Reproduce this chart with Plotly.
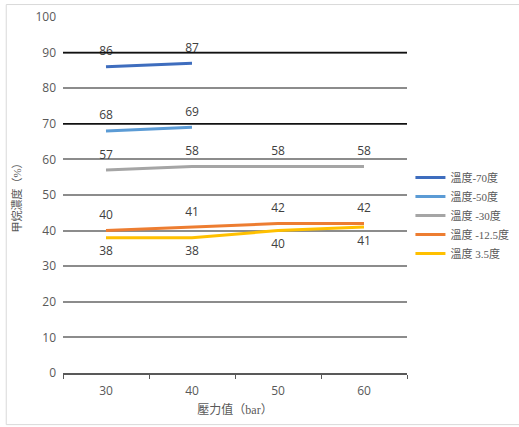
import plotly.graph_objects as go

categories = ["30", "40", "50", "60"]
series_names = ["溫度-70度", "溫度-50度", "溫度 -30度", "溫度 -12.5度", "溫度 3.5度"]
s_m70 = [86, 87, None, None]
s_m50 = [68, 69, None, None]
s_m30 = [57, 58, 58, 58]
s_m125 = [40, 41, 42, 42]
s_p35 = [38, 38, 40, 41]
series_values = [s_m70, s_m50, s_m30, s_m125, s_p35]
colors = ["#3E6DBE", "#5B9BD5", "#A5A5A5", "#ED7D31", "#FFC000"]
label_pos = ["top center", "top center", "top center", "top center", "bottom center"]
dark_grid_values = [90, 70]

fig = go.Figure()
for name, vals, col, pos in zip(series_names, series_values, colors, label_pos):
    fig.add_trace(go.Scatter(
        x=categories, y=vals, name=name, mode="lines+markers+text",
        line=dict(color=col, width=3),
        marker=dict(size=12, color="rgba(0,0,0,0)", line=dict(width=0)),
        text=[("" if v is None else str(v)) for v in vals],
        textposition=pos,
        textfont=dict(family="Open Sans, sans-serif", size=12, color="#404040"),
        connectgaps=False,
    ))

for v in dark_grid_values:
    fig.add_shape(type="line", xref="paper", yref="y", x0=0, x1=1, y0=v, y1=v,
                  line=dict(color="#111111", width=1.5), layer="above")

fig.add_shape(type="rect", xref="paper", yref="paper", x0=-0.165, x1=1.35, y0=-0.145, y1=1.035,
              line=dict(color="#D9D9D9", width=1), layer="below")

fig.update_layout(
    width=519, height=427,
    margin=dict(l=63, r=112, t=17, b=54, autoexpand=False),
    plot_bgcolor="white", paper_bgcolor="white",
    font=dict(family="Open Sans, Noto Sans CJK TC, sans-serif", color="#595959", size=12),
    showlegend=True,
    legend=dict(x=1.01, y=0.59, xanchor="left", yanchor="top", bgcolor="rgba(0,0,0,0)",
                font=dict(family="Liberation Serif, Noto Sans CJK TC, serif", size=11, color="#595959"),
                tracegroupgap=0, itemwidth=30),
    xaxis=dict(type="category", range=[-0.5, 3.5], showgrid=False,
               showline=True, linecolor="#595959", linewidth=1.5,
               ticks="outside", tickson="boundaries", ticklen=4, tickcolor="#595959",
               ticklabelstandoff=6,
               tickfont=dict(size=12, color="#595959"),
               title=dict(text="壓力值（bar）", font=dict(family="Liberation Serif, Noto Sans CJK TC, serif", size=12, color="#595959"), standoff=7)),
    yaxis=dict(range=[0, 100], dtick=10, showgrid=True, gridcolor="#8C8C8C", gridwidth=1.5,
               zeroline=False, showline=False, ticks="",
               ticklabelstandoff=6,
               tickfont=dict(size=12, color="#595959"),
               title=dict(text="甲烷濃度（%）", font=dict(family="Liberation Serif, Noto Sans CJK TC, serif", size=11, color="#595959"), standoff=11)),
)

fig.write_html("out.html")
